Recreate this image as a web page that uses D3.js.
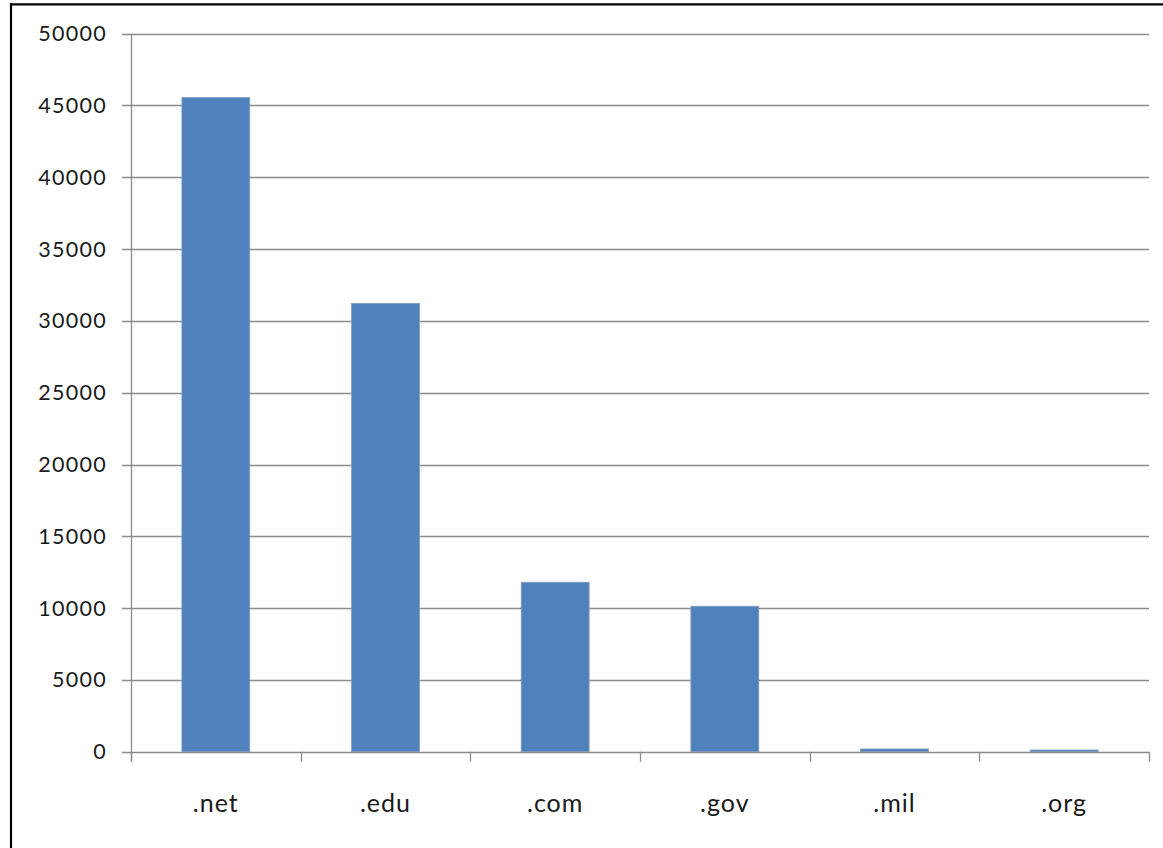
<!DOCTYPE html>
<html>
<head>
<meta charset="utf-8">
<script src="https://cdn.jsdelivr.net/npm/d3@7"></script>
<style>
  html, body { margin: 0; padding: 0; background: #ffffff; }
  svg { display: block; }
  .lbl { font-family: Lato, "Open Sans", sans-serif; fill: #1a1a1a; }
</style>
</head>
<body>
<svg id="chart" width="1163" height="848"></svg>
<script>
// Domain counts
const categories = [".net", ".edu", ".com", ".gov", ".mil", ".org"];
const counts = [45550, 31220, 11800, 10130, 190, 120];
const yTicks = [0, 5000, 10000, 15000, 20000, 25000, 30000, 35000, 40000, 45000, 50000];

const W = 1163, H = 848;
const plot = { left: 131, right: 1149, top: 33.7, bottom: 751.7 };

const svg = d3.select("#chart");

// Frame: heavy line on the top and left edges
svg.append("line").attr("x1", 10).attr("x2", W).attr("y1", 4.3).attr("y2", 4.3)
  .attr("stroke", "#000").attr("stroke-width", 2.2);
svg.append("line").attr("x1", 11).attr("x2", 11).attr("y1", 3.2).attr("y2", H)
  .attr("stroke", "#000").attr("stroke-width", 2.2);

const x = d3.scaleBand()
  .domain(categories)
  .range([plot.left, plot.right])
  .paddingInner(0.6)
  .paddingOuter(0.3);

const y = d3.scaleLinear()
  .domain([0, 50000])
  .range([plot.bottom, plot.top]);

const gridColor = "#8c8c8c";

// Horizontal gridlines with short tick stubs left of the axis
svg.append("g").selectAll("line")
  .data(yTicks.filter(d => d > 0))
  .join("line")
  .attr("x1", plot.left - 9).attr("x2", plot.right)
  .attr("y1", d => Math.round(y(d)) + 0.5).attr("y2", d => Math.round(y(d)) + 0.5)
  .attr("stroke", gridColor).attr("stroke-width", 1.3);

// Y tick labels
svg.append("g").selectAll("text")
  .data(yTicks)
  .join("text")
  .attr("class", "lbl")
  .attr("x", 107).attr("y", d => y(d))
  .attr("dy", "0.35em")
  .attr("text-anchor", "end")
  .attr("font-size", 21.5)
  .attr("letter-spacing", "1.3px")
  .text(d => d);

// Bars
svg.append("g").selectAll("rect")
  .data(categories.map((c, i) => ({ c, v: counts[i] })))
  .join("rect")
  .attr("x", d => x(d.c))
  .attr("width", x.bandwidth())
  .attr("y", d => y(d.v))
  .attr("height", d => y(0) - y(d.v))
  .attr("fill", "#4f81bd")
  .attr("stroke", "#7f9cc2")
  .attr("stroke-width", 0.8);

// Axes lines
svg.append("line")
  .attr("x1", plot.left + 0.5).attr("x2", plot.left + 0.5)
  .attr("y1", y(50000)).attr("y2", plot.bottom + 10)
  .attr("stroke", gridColor).attr("stroke-width", 1.3);
svg.append("line")
  .attr("x1", plot.left - 9).attr("x2", plot.right)
  .attr("y1", Math.round(y(0)) + 0.5).attr("y2", Math.round(y(0)) + 0.5)
  .attr("stroke", gridColor).attr("stroke-width", 1.3);

// Category boundary ticks below the axis
const bounds = categories.map(c => x(c) - x.step() * x.paddingOuter()).concat([plot.right]);
svg.append("g").selectAll("line")
  .data(bounds)
  .join("line")
  .attr("x1", d => Math.round(d) + 0.5).attr("x2", d => Math.round(d) + 0.5)
  .attr("y1", y(0)).attr("y2", y(0) + 10)
  .attr("stroke", gridColor).attr("stroke-width", 1.3);

// Category labels
svg.append("g").selectAll("text")
  .data(categories)
  .join("text")
  .attr("class", "lbl")
  .attr("x", d => x(d) + x.bandwidth() / 2)
  .attr("y", 811.5)
  .attr("text-anchor", "middle")
  .attr("font-size", 25)
  .attr("letter-spacing", "1px")
  .text(d => d);
</script>
</body>
</html>
